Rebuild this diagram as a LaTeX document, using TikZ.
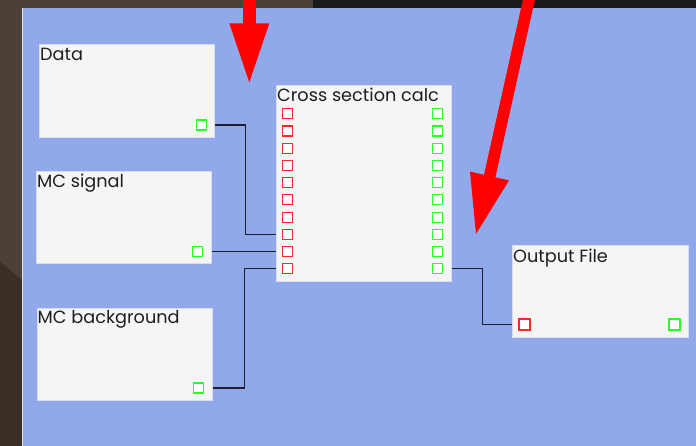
\documentclass[tikz,border=0pt]{standalone}
\usepackage{fontspec}
\setmainfont{Poppins}
\definecolor{deskbrown}{RGB}{75,65,57}
\definecolor{deskdeep}{RGB}{58,47,39}
\definecolor{bardark}{RGB}{26,26,26}
\definecolor{canvasblue}{RGB}{145,169,235}
\definecolor{canvasedge}{RGB}{232,226,216}
\definecolor{boxfill}{RGB}{245,245,243}
\definecolor{boxedge}{RGB}{214,221,245}
\definecolor{txt}{RGB}{30,30,34}
\definecolor{portred}{RGB}{255,40,40}
\definecolor{portgreen}{RGB}{40,255,40}
\definecolor{wirecol}{RGB}{30,32,45}
\definecolor{markred}{RGB}{255,0,0}
\begin{document}
\begin{tikzpicture}[x=1pt,y=-1pt,
  block/.style={draw=boxedge, fill=boxfill, line width=0.8pt, inner sep=0pt, anchor=north west},
  title/.style={anchor=base west, inner sep=0pt, text=txt, font=\fontsize{17.7}{21}\selectfont},
  port/.style={fill=white, line width=1.2pt, minimum size=10pt, inner sep=0pt},
  inport/.style={port, draw=portred},
  outport/.style={port, draw=portgreen},
  wire/.style={draw=wirecol, line width=1.3pt},
  marker/.style={fill=markred}]
\useasboundingbox (0,0) rectangle (696,446);

% desktop behind the window
\fill[deskbrown] (0,0) rectangle (696,446);
\fill[deskdeep] (0,262) -- (22,280) -- (22,446) -- (0,446) -- cycle;
\fill[bardark] (313,0) rectangle (696,8);
% editor canvas
\fill[canvasblue] (23,8) rectangle (696,446);
\draw[canvasedge, line width=1pt] (22.5,8) -- (22.5,446);

% blocks
\node[block, minimum width=175pt, minimum height=93pt] (data) at (39,44) {};
\node[block, minimum width=175pt, minimum height=92pt] (sig) at (36,171) {};
\node[block, minimum width=175pt, minimum height=92pt] (bkg) at (37,308) {};
\node[block, minimum width=175pt, minimum height=196pt] (calc) at (276,85) {};
\node[block, minimum width=176pt, minimum height=92pt] (outfile) at (512,245) {};

% ports
\node[outport] (dp) at (201.5,125) {};
\node[outport] (sp) at (197.5,251.5) {};
\node[outport] (bp) at (198.5,388) {};
\foreach \k in {1,...,10} {
  \node[inport] (ci\k) at (287.5,{113.8+17.22*(\k-1)}) {};
  \node[outport] (co\k) at (437.5,{113.8+17.22*(\k-1)}) {};
}
\node[inport] (fin) at (524.5,324.5) {};
\node[outport] (fout) at (674.5,324.5) {};
% port frames of the file block, traced once more over the nodes
\draw[portred, line width=1.2pt] (fin.south west) rectangle (fin.north east);
\draw[portgreen, line width=1.2pt] (fout.south west) rectangle (fout.north east);

% connections
\draw[wire] (dp -| data.east) -- ++(31,0) |- (ci8 -| calc.west);
\draw[wire] (sp -| sig.east) -- (sp -| calc.west);
\draw[wire] (bp -| bkg.east) -- ++(32,0) |- (ci10 -| calc.west);
\draw[wire] (co10 -| calc.east) -- ++(31,0) |- (fin -| outfile.west);

% titles
\node[title] (tdata) at (40,61) {Data};
\node[title] (tsig) at (37,187.5) {MC signal};
\node[title] (tbkg) at (37.5,323.5) {MC background};
\node[title] (tcalc) at (277,101.5) {Cross section calc};
\node[title] (tout) at (513,263) {Output File};

% red pointer arrows
\fill[marker] (243.3,-2) rectangle (255.7,24);
\fill[marker] (229.3,23.3) -- (269.3,23.3) -- (249.3,82.3) -- cycle;
\draw[markred, line width=11.7pt] (529.7,-4) -- (489.5,177);
\fill[marker] (470.0,171.6) -- (509.0,180.4) -- (476.0,234.0) -- cycle;
\end{tikzpicture}
\end{document}
